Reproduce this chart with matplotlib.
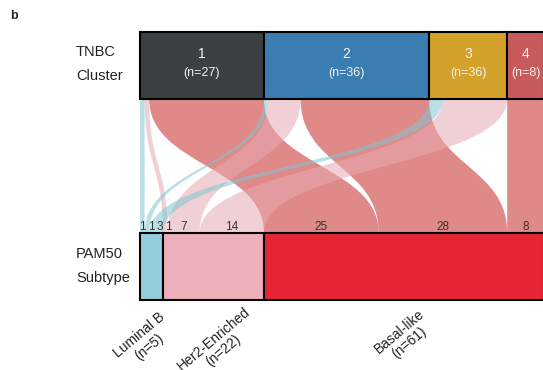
import matplotlib
matplotlib.use('Agg')
import matplotlib.pyplot as plt
from matplotlib.patches import Rectangle, PathPatch
from matplotlib.path import Path

plt.rcParams['font.family'] = ['Liberation Sans', 'DejaVu Sans']

# TNBC clusters (top row)
clusters = ['1', '2', '3', '4']
cluster_n = [27, 36, 36, 8]
cluster_colors = ['#3b4040', '#3a7db1', '#d4a12a', '#c85a5b']

# PAM50 subtypes (bottom row)
subtypes = ['Luminal B', 'Her2-Enriched', 'Basal-like']
subtype_n = [5, 22, 61]
subtype_colors = ['#93cddc', '#edafba', '#e62535']
flow_colors = ['#7ec7d1', '#e7aab4', '#c82828']

# number of samples going from each cluster (rows) to each subtype (columns)
counts = [
    [1, 1, 25],
    [1, 7, 28],
    [3, 14, 0],
    [0, 0, 8],
]

# layout (y in pixels, x in samples)
top_y0, top_y1 = 32, 99
bot_y0, bot_y1 = 233, 300
unit = 4.59
left_px = 140
# small nudges (pixels) for the rotated subtype labels
label_dx = [-7, 5, 0]
label_y = [341, 345, 337]

fig = plt.figure(figsize=(5.43, 3.70), dpi=100)
ax = fig.add_axes([0, 0, 1, 1])
ax.set_xlim(-left_px / unit, (543 - left_px) / unit)
ax.set_ylim(370, 0)
ax.axis('off')

n_c = len(clusters)
n_s = len(subtypes)

# start of each box along x
cl_size = [sum(r) for r in counts]
st_size = [sum(counts[c][s] for c in range(n_c)) for s in range(n_s)]
cl_start = [sum(cl_size[:i]) for i in range(n_c)]
st_start = [sum(st_size[:i]) for i in range(n_s)]

# flow positions at top (ordered by subtype) and bottom (ordered by cluster)
top_pos = {}
for c in range(n_c):
    x = cl_start[c]
    for s in range(n_s):
        top_pos[(c, s)] = x
        x += counts[c][s]
bot_pos = {}
for s in range(n_s):
    x = st_start[s]
    for c in range(n_c):
        bot_pos[(c, s)] = x
        x += counts[c][s]

ym = (top_y1 + bot_y0) / 2
label_items = []
for s in [2, 1, 0]:
    for c in range(n_c):
        v = counts[c][s]
        if v == 0:
            continue
        t0 = top_pos[(c, s)]
        t1 = t0 + v
        b0 = bot_pos[(c, s)]
        b1 = b0 + v
        verts = [(t0, top_y1), (t0, ym), (b0, ym), (b0, bot_y0),
                 (b1, bot_y0), (b1, ym), (t1, ym), (t1, top_y1), (t0, top_y1)]
        codes = [Path.MOVETO, Path.CURVE4, Path.CURVE4, Path.CURVE4,
                 Path.LINETO, Path.CURVE4, Path.CURVE4, Path.CURVE4, Path.CLOSEPOLY]
        ax.add_patch(PathPatch(Path(verts, codes), facecolor=flow_colors[s],
                               edgecolor='none', alpha=0.55, zorder=1 + (2 - s)))
        label_items.append((b0 + v / 2, v))

# flow counts above the bottom boxes, pushed apart where they would overlap
label_items.sort()
prev = None
for x, v in label_items:
    if prev is not None and x < prev + 1.9:
        x = prev + 1.9
    prev = x
    ax.text(x, 227, str(v), ha='center', va='center', fontsize=8.5,
            color='#333333', zorder=6)

# top boxes
for c in range(n_c):
    ax.add_patch(Rectangle((cl_start[c], top_y0), cl_size[c], top_y1 - top_y0,
                           facecolor=cluster_colors[c], edgecolor='black',
                           linewidth=1.5, zorder=5))
    cx = cl_start[c] + cl_size[c] / 2
    ax.text(cx, 54, clusters[c], ha='center', va='center', fontsize=10,
            color='#f2f2f2', zorder=6)
    ax.text(cx, 73, '(n=%d)' % cluster_n[c], ha='center', va='center',
            fontsize=9, color='#f2f2f2', zorder=6)

# bottom boxes
for s in range(n_s):
    ax.add_patch(Rectangle((st_start[s], bot_y0), st_size[s], bot_y1 - bot_y0,
                           facecolor=subtype_colors[s], edgecolor='black',
                           linewidth=1.5, zorder=5))
    cx = st_start[s] + st_size[s] / 2 + label_dx[s] / unit
    ax.text(cx, label_y[s], '%s\n(n=%d)' % (subtypes[s], subtype_n[s]),
            ha='center', va='center', rotation=40, rotation_mode='anchor',
            fontsize=10, color='#222222', linespacing=1.1)

lx = (76 - left_px) / unit
ax.text(lx, 52, 'TNBC', ha='left', va='center', fontsize=10.5, color='#222222')
ax.text(lx, 76, 'Cluster', ha='left', va='center', fontsize=10.5, color='#222222')
ax.text(lx, 254, 'PAM50', ha='left', va='center', fontsize=10.5, color='#222222')
ax.text(lx, 278, 'Subtype', ha='left', va='center', fontsize=10.5, color='#222222')
ax.text((10 - left_px) / unit, 16, 'b', ha='left', va='center', fontsize=9,
        fontweight='bold', color='#222222')

fig.savefig('out.png', dpi=100)
